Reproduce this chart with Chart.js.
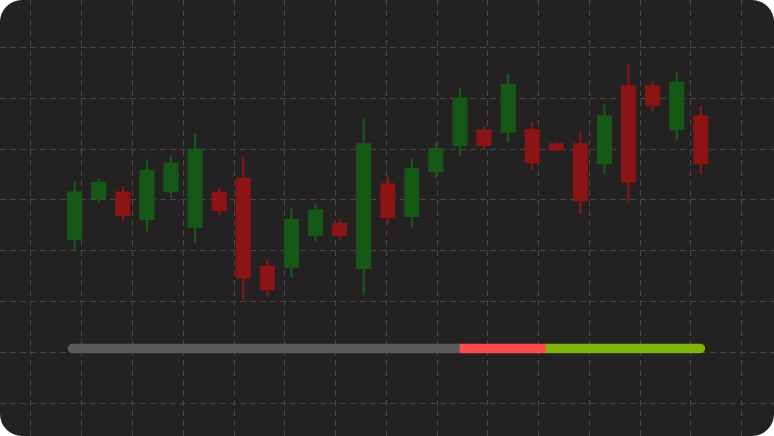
<!DOCTYPE html>
<html>
<head>
<meta charset="utf-8">
<script src="https://cdn.jsdelivr.net/npm/chart.js@4.4.1/dist/chart.umd.min.js"></script>
<style>
  html, body { margin: 0; padding: 0; background: #ffffff; }
  .card {
    width: 774px;
    height: 436px;
    border-radius: 22px;
    overflow: hidden;
    background: #232122;
  }
  canvas { display: block; }
</style>
</head>
<body>
<div class="card">
  <canvas id="candles" width="774" height="436"></canvas>
</div>
<script>
// Candle data (index 0..26)
const opens  = [32.2, 40.2, 41.6, 36.1, 41.6, 34.6, 41.6, 44.3, 27.0, 26.7, 33.0, 35.4, 26.5, 43.2,
                36.7, 45.5, 50.7, 53.8, 53.3, 53.9, 51.1, 51.1, 47.1, 62.5, 62.5, 53.8, 56.6];
const closes = [41.6, 43.5, 36.9, 45.9, 47.3, 50.0, 37.9, 24.6, 22.3, 36.2, 38.1, 33.0, 51.1, 36.5,
                46.2, 50.2, 60.1, 50.7, 62.8, 47.3, 49.8, 39.8, 56.6, 43.5, 58.6, 63.2, 47.1];
const highs  = [43.6, 44.2, 42.6, 47.9, 48.7, 53.1, 42.4, 48.4, 28.1, 38.3, 39.2, 36.2, 56.1, 44.6,
                48.0, 51.2, 62.0, 54.4, 64.8, 55.4, 51.3, 53.4, 58.8, 66.6, 63.3, 65.2, 58.5];
const lows   = [30.3, 39.6, 35.9, 33.9, 40.5, 31.6, 37.1, 20.5, 21.1, 24.8, 31.8, 32.3, 21.3, 35.2,
                34.7, 44.5, 48.7, 50.0, 51.3, 46.0, 49.7, 37.2, 45.1, 39.8, 57.5, 51.7, 45.1];

// progress strip under the candles (shares in percent)
const progressShares = [61.5, 13.5, 25];
const progressColors = ['#5b5a5a', '#fd4b50', '#7fb509'];

const upColor = '#165916';
const downColor = '#8d1414';

const candleColors = opens.map((o, i) => closes[i] >= o ? upColor : downColor);
const bodies = opens.map((o, i) => ({ x: i, y: [o, closes[i]] }));
const wicks = lows.map((l, i) => ({ x: i, y: [l, highs[i]] }));

// draws the rounded progress strip using the chart scales
const progressStrip = {
  id: 'progressStrip',
  afterDatasetsDraw(chart) {
    const ctx = chart.ctx;
    const xs = chart.scales.x;
    const ys = chart.scales.y;
    const x0 = xs.getPixelForValue(-0.29);
    const x1 = xs.getPixelForValue(26.18);
    const yc = ys.getPixelForValue(10.77);
    const h = 10;
    const total = progressShares.reduce((a, b) => a + b, 0);
    ctx.save();
    ctx.beginPath();
    ctx.roundRect(x0, yc - h / 2, x1 - x0, h, h / 2);
    ctx.clip();
    let x = x0;
    progressShares.forEach((s, i) => {
      const w = (x1 - x0) * s / total;
      ctx.fillStyle = progressColors[i];
      ctx.fillRect(x, yc - h / 2, w + 0.5, h);
      x += w;
    });
    ctx.restore();
  }
};

const gridColor = '#474546';

new Chart(document.getElementById('candles'), {
  type: 'bar',
  data: {
    datasets: [
      {
        label: 'body',
        data: bodies,
        backgroundColor: candleColors,
        barThickness: 14.5,
        grouped: false,
        borderWidth: 0
      },
      {
        label: 'wick',
        data: wicks,
        backgroundColor: candleColors,
        barThickness: 1.5,
        grouped: false,
        borderWidth: 0
      }
    ]
  },
  options: {
    responsive: false,
    animation: false,
    devicePixelRatio: 1,
    layout: { padding: 0 },
    plugins: {
      legend: { display: false },
      tooltip: { enabled: false }
    },
    scales: {
      x: {
        type: 'linear',
        min: -3.102,
        max: 29.04,
        offset: false,
        display: true,
        grid: { display: false, drawTicks: false, offset: false },
        border: { display: false },
        ticks: { display: false }
      },
      xg: {
        type: 'linear',
        position: 'bottom',
        min: -0.6106,
        max: 14.635,
        offset: false,
        grid: { color: gridColor, lineWidth: 1, drawTicks: false, offset: false },
        border: { display: false, dash: [6, 4] },
        ticks: { display: false, stepSize: 1, includeBounds: false }
      },
      y: {
        type: 'linear',
        min: -6.46,
        max: 79.37,
        grid: { color: gridColor, lineWidth: 1, drawTicks: false },
        border: { display: false, dash: [6, 4] },
        ticks: { display: false, stepSize: 10, includeBounds: false }
      }
    }
  },
  plugins: [progressStrip]
});
</script>
</body>
</html>
